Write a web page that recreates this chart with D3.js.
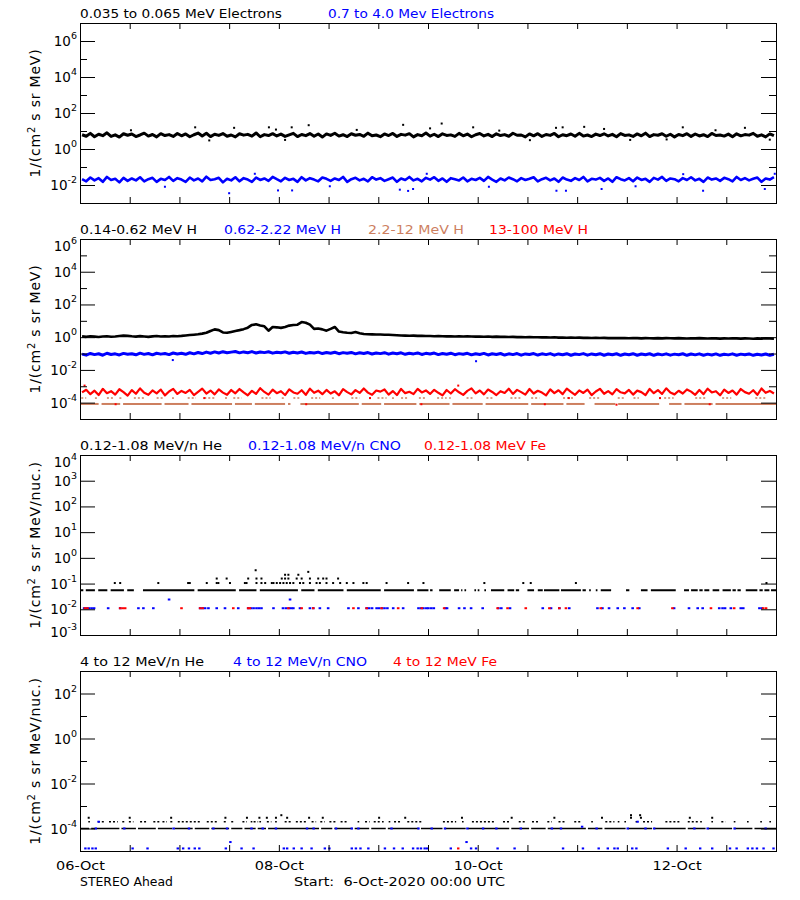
<!DOCTYPE html>
<html><head><meta charset="utf-8">
<script src="https://cdn.jsdelivr.net/npm/d3@7"></script>
<style>
body{margin:0;background:#fff;}
svg{display:block;font-family:"DejaVu Sans",sans-serif;}
</style></head><body>
<svg id="c" width="800" height="900"></svg>
<script>
// ---------------- DATA (time in hours since 06-Oct-2020 00:00 UTC) ----------------
const startDate = Date.UTC(2020, 9, 6);
const spanHours = 168;
const xTickStepHours = 12;
const xLabelHours = [0, 48, 96, 144];

// Panel 1 : electrons, hourly values
const p1Labels = ["0.035 to 0.065 MeV Electrons", "0.7 to 4.0 Mev Electrons"];
const p1Colors = ["#000000", "#0000ff"];
const p1TickExp = [-2, 0, 2, 4, 6];
const p1MinorExp = [-1, 1, 3, 5];
const p1Black = [6.2,5.1,7.4,4.8,6.6,5.5,7.9,5.0,6.1,4.6,7.0,5.8,
6.8,4.9,6.0,7.6,5.2,6.4,4.7,7.1,5.6,6.3,5.0,7.3,
5.4,6.9,4.8,6.2,7.7,5.3,7.5,4.9,6.6,5.7,7.2,5.1,
6.0,4.7,7.0,5.9,6.5,5.2,7.8,4.8,6.3,5.6,7.1,5.3,
6.7,5.0,6.1,7.4,4.9,6.4,5.5,7.2,5.1,6.8,4.6,6.9,
5.7,7.5,5.2,6.2,4.9,7.0,5.8,6.4,5.1,7.6,5.4,6.0,
4.8,6.9,5.6,7.3,5.0,6.5,5.9,7.1,4.7,6.3,5.5,7.7,
5.2,6.6,4.9,7.0,5.7,6.1,5.0,7.4,5.4,6.8,4.8,6.2,
7.2,5.3,6.5,4.9,7.0,5.6,6.3,5.1,7.5,5.8,6.0,4.7,
6.9,5.4,7.1,5.0,6.4,5.7,7.3,4.8,6.2,5.5,6.8,5.1,
7.4,5.2,6.0,4.9,6.7,5.6,7.0,5.3,6.5,4.8,7.2,5.7,
6.1,5.0,6.9,5.4,7.6,4.9,6.3,5.8,7.0,5.1,6.6,4.7,
6.4,5.5,7.1,5.0,6.8,5.3,6.2,4.9,7.3,5.6,6.0,5.2,
6.7,4.8,7.0,5.4,6.3,5.9,7.4,5.1,6.1,4.7,6.9,5.5];
const p1BlackOut = [[27.8,16],[37.2,15],[45.6,16],[47.3,12],[51.1,16],[55.2,21],[78,22],[84.5,14],[87.3,26],[94.9,16],[114.9,15],[116.5,16],[121.7,17],[126.5,13],[145.5,16],[160.5,15],[31.2,3.0],[49.5,3.2],[108.6,3.1],[132.8,3.2],[141.6,3.4],[166.5,3.3],[12.3,11],[66.8,11.5],[101.2,10.5],[153.4,11]];
const p1Blue = [0.021,0.016,0.026,0.018,0.024,0.015,0.028,0.019,0.022,0.014,0.025,0.017,
0.023,0.018,0.027,0.016,0.021,0.025,0.015,0.022,0.019,0.028,0.017,0.024,
0.020,0.015,0.026,0.018,0.023,0.016,0.029,0.019,0.021,0.025,0.014,0.022,
0.018,0.027,0.016,0.024,0.020,0.015,0.026,0.019,0.023,0.017,0.028,0.021,
0.016,0.025,0.019,0.022,0.015,0.027,0.018,0.024,0.020,0.016,0.026,0.022,
0.017,0.023,0.019,0.028,0.015,0.021,0.025,0.018,0.022,0.016,0.027,0.020,
0.024,0.017,0.021,0.026,0.015,0.023,0.019,0.028,0.018,0.022,0.016,0.025,
0.020,0.027,0.017,0.023,0.015,0.024,0.021,0.018,0.026,0.016,0.022,0.019,
0.025,0.017,0.028,0.020,0.015,0.023,0.018,0.026,0.021,0.016,0.024,0.019,
0.022,0.027,0.016,0.021,0.025,0.018,0.023,0.015,0.026,0.020,0.017,0.024,
0.019,0.028,0.016,0.022,0.020,0.025,0.017,0.023,0.015,0.027,0.021,0.018,
0.024,0.016,0.026,0.019,0.022,0.015,0.025,0.020,0.028,0.017,0.023,0.021,
0.016,0.024,0.019,0.027,0.018,0.022,0.015,0.026,0.020,0.023,0.017,0.025,
0.021,0.016,0.028,0.019,0.024,0.018,0.022,0.026,0.015,0.023,0.020,0.027];
const p1BlueOut = [[36,0.0035],[47.8,0.005],[51.2,0.005],[77.2,0.0055],[79.2,0.0047],[80.4,0.006],[115,0.0048],[117.3,0.0048],[125.9,0.006],[150.4,0.0048],[165.3,0.006],[42.2,0.042],[83.7,0.042],[145.6,0.04],[167.7,0.042],[20.5,0.008],[60.3,0.0085],[98.7,0.008],[134.1,0.0085]];

// Panel 2 : protons
const p2Labels = ["0.14-0.62 MeV H", "0.62-2.22 MeV H", "2.2-12 MeV H", "13-100 MeV H"];
const p2Colors = ["#000000", "#0000ff", "#cd7f5f", "#ff0000"];
const p2TickExp = [-4, -2, 0, 2, 4, 6];
const p2MinorExp = [-3, -1, 1, 3, 5];
const p2Black = [1.12,1.05,1.15,1.08,1.02,1.10,1.14,1.06,1.11,1.18,1.25,1.20,
1.13,1.08,1.16,1.10,1.05,1.12,1.17,1.09,1.14,1.11,1.19,1.15,
1.20,1.28,1.35,1.42,1.50,1.65,1.85,2.40,3.00,2.70,1.95,1.85,
2.10,2.40,2.70,3.10,3.80,5.60,6.10,5.20,4.60,2.50,4.20,4.00,
3.70,4.20,5.10,5.50,5.80,8.40,7.60,5.80,3.20,3.40,3.00,2.50,
3.20,4.20,2.20,2.00,1.85,1.80,2.05,1.75,1.55,1.50,1.48,1.46,
1.45,1.42,1.40,1.36,1.32,1.28,1.25,1.22,1.24,1.20,1.22,1.18,
1.17,1.15,1.18,1.14,1.12,1.15,1.11,1.13,1.09,1.12,1.10,1.08,
1.10,1.07,1.09,1.05,1.08,1.04,1.06,1.02,1.05,1.01,1.03,0.99,
1.02,0.98,1.00,0.97,0.99,0.95,0.98,0.94,0.96,0.93,0.95,0.92,
0.94,0.91,0.93,0.90,0.92,0.89,0.91,0.88,0.90,0.87,0.89,0.88,
0.86,0.89,0.87,0.85,0.88,0.86,0.84,0.87,0.85,0.88,0.86,0.84,
0.87,0.85,0.83,0.86,0.84,0.87,0.85,0.83,0.86,0.84,0.82,0.85,
0.83,0.86,0.84,0.82,0.85,0.83,0.81,0.84,0.82,0.85,0.83,0.81];
const p2Blue = [0.092,0.080,0.101,0.086,0.097,0.079,0.104,0.088,0.096,0.082,0.102,0.090,
0.098,0.084,0.106,0.089,0.100,0.083,0.104,0.092,0.101,0.086,0.108,0.095,
0.103,0.090,0.112,0.096,0.116,0.100,0.123,0.105,0.126,0.108,0.130,0.112,
0.122,0.133,0.110,0.126,0.113,0.131,0.108,0.124,0.114,0.129,0.106,0.121,
0.111,0.126,0.104,0.120,0.109,0.125,0.102,0.117,0.107,0.122,0.100,0.116,
0.105,0.120,0.098,0.114,0.103,0.117,0.096,0.112,0.101,0.115,0.094,0.109,
0.099,0.113,0.092,0.107,0.097,0.111,0.090,0.105,0.095,0.109,0.088,0.103,
0.093,0.107,0.086,0.101,0.091,0.105,0.085,0.099,0.090,0.103,0.083,0.098,
0.088,0.102,0.082,0.097,0.087,0.101,0.081,0.096,0.086,0.100,0.080,0.095,
0.087,0.100,0.081,0.096,0.086,0.099,0.080,0.095,0.085,0.098,0.079,0.094,
0.086,0.099,0.080,0.095,0.085,0.098,0.079,0.094,0.084,0.097,0.078,0.093,
0.085,0.098,0.079,0.094,0.084,0.097,0.078,0.093,0.083,0.096,0.080,0.092,
0.084,0.097,0.078,0.093,0.083,0.096,0.079,0.092,0.082,0.095,0.078,0.091,
0.083,0.096,0.079,0.092,0.084,0.095,0.078,0.091,0.082,0.094,0.079,0.090];
const p2BlueOut = [[22.4,0.04],[95.6,0.034]];
const p2TanLowLevel = 8.3e-5;
const p2TanLow = [[0,4.5],[5.2,9.7],[10.4,19.7],[20.4,26.2],[26.9,36.7],[37.4,41.5],[42.2,49.5],[50.2,50.8],[53.2,67.3],[68,72.7],[73.4,81.2],[81.9,89.2],[89.9,97.2],[97.9,108.2],[108.9,116.7],[117.4,121.8],[124.2,129.2],[129.9,139.8],[142.2,145.2],[145.9,152.7],[153.4,168]];
const p2TanHighLevel = 1.9e-4;
const p2TanHigh = [[0.3,1.5],[3.6,4.3],[6.5,8],[9.5,10],[13,15.5],[18.5,20.2],[22.2,22.8],[26,28],[30,32.5],[35,35.8],[37,39],[43.8,46],[48.7,49.3],[51.5,53],[55.8,58],[60.8,61.4],[65.5,67.5],[71.8,74],[75.3,75.9],[77.5,79.3],[81.8,83.5],[86.2,88.5],[89.1,89.5],[93.3,94.9],[98.1,99.7],[103.9,106.3],[108.9,110.9],[116.6,119],[122.9,125.5],[129.8,131.5],[133.6,134.9],[141,143.3],[148.5,151],[155,157.2],[163,165.5]];
const p2Red = [4.2e-4,6.1e-4,3.3e-4,5.4e-4,2.9e-4,7.0e-4,3.8e-4,5.0e-4,3.1e-4,6.6e-4,4.4e-4,2.7e-4,
5.8e-4,3.5e-4,7.4e-4,4.0e-4,3.0e-4,5.6e-4,3.7e-4,6.3e-4,2.8e-4,4.8e-4,6.9e-4,3.4e-4,
5.2e-4,3.9e-4,6.0e-4,2.9e-4,4.6e-4,7.2e-4,3.6e-4,5.5e-4,3.2e-4,6.4e-4,4.1e-4,3.0e-4,
5.9e-4,3.7e-4,6.8e-4,4.3e-4,2.8e-4,5.3e-4,3.4e-4,7.6e-4,4.5e-4,3.1e-4,6.2e-4,3.8e-4,
5.0e-4,2.9e-4,6.5e-4,4.2e-4,3.5e-4,5.7e-4,3.0e-4,7.1e-4,4.0e-4,5.4e-4,3.3e-4,6.0e-4,
3.6e-4,4.9e-4,2.8e-4,6.7e-4,4.4e-4,3.2e-4,5.8e-4,3.9e-4,7.3e-4,4.1e-4,3.0e-4,5.5e-4,
4.7e-4,6.4e-4,3.1e-4,5.1e-4,2.9e-4,6.9e-4,3.8e-4,4.6e-4,3.3e-4,7.0e-4,4.2e-4,5.6e-4,
3.4e-4,6.1e-4,4.0e-4,2.8e-4,5.9e-4,3.6e-4,6.6e-4,4.3e-4,3.0e-4,5.2e-4,7.4e-4,3.7e-4,
5.5e-4,3.2e-4,6.3e-4,4.5e-4,2.9e-4,5.0e-4,3.9e-4,7.1e-4,3.4e-4,6.0e-4,4.4e-4,3.1e-4,
6.8e-4,3.6e-4,5.3e-4,4.1e-4,2.8e-4,6.5e-4,3.8e-4,5.7e-4,3.3e-4,7.2e-4,4.6e-4,3.0e-4,
5.6e-4,3.9e-4,6.2e-4,2.9e-4,4.8e-4,7.0e-4,3.5e-4,5.1e-4,3.2e-4,6.7e-4,4.3e-4,3.7e-4,
6.0e-4,3.1e-4,5.4e-4,4.4e-4,2.9e-4,6.9e-4,3.8e-4,5.8e-4,3.4e-4,7.5e-4,4.1e-4,3.2e-4,
5.3e-4,3.6e-4,6.4e-4,4.7e-4,3.0e-4,5.9e-4,3.3e-4,7.1e-4,4.2e-4,5.0e-4,2.8e-4,6.3e-4,
3.9e-4,5.5e-4,3.1e-4,6.8e-4,4.4e-4,3.5e-4,5.7e-4,3.0e-4,7.3e-4,4.0e-4,5.2e-4,3.6e-4];
const p2RedOut = [[1.1,1.1e-3],[91.3,1.1e-3],[8.6,8e-5],[54.6,8e-5],[82.4,8e-5],[112.2,8e-5],[129.5,7.5e-5],[152,8e-5],[30,1.9e-4],[70,1.9e-4],[118,1.9e-4],[140,1.9e-4]];

// Panel 3 : low-energy heavy ions
const p3Labels = ["0.12-1.08 MeV/n He", "0.12-1.08 MeV/n CNO", "0.12-1.08 MeV Fe"];
const p3Colors = ["#000000", "#0000ff", "#ff0000"];
const p3TickExp = [-3, -2, -1, 0, 1, 2, 3, 4];
const p3MinorExp = [];
const p3HeBaseLevel = 0.055;
const p3HeBase = [[0,0.8],[1.4,3.6],[4.4,6.6],[7.4,10.6],[11.4,13],[15.2,27.6],[28.4,37.6],[38.4,42.6],[43.4,52.6],[53.4,56.6],[57.4,63.6],[64.4,72.6],[73.4,80.6],[81.4,84.1],[84.5,85.1],[86.7,89.5],[90.3,91.5],[92,92.3],[92.8,93.2],[95.2,95.6],[96,96.4],[97.6,98],[99.2,102.4],[103.2,104.8],[105.2,106],[108,109.6],[110.5,111.7],[112,115.7],[116.1,120.9],[121.3,122.1],[122.9,123.3],[124.5,124.9],[125.7,128.2],[131.8,132.6],[135.4,137],[137.8,143.8],[145.8,147],[147.5,149.1],[149.5,150.3],[150.7,151.9],[152.7,154.3],[155.1,157.1],[157.5,158.3],[158.7,159.5],[160.7,163.5],[164,164.8],[165.2,166.4],[166.8,168]];
const p3HeHigh = [[8.4,0.105],[9.7,0.105],[18.9,0.105],[26.1,0.105],[26.5,0.105],[30.6,0.105],[33,0.105],[33.4,0.105],[36.2,0.105],[39.8,0.105],[40.2,0.105],[42.6,0.105],[43.8,0.105],[44.7,0.105],[46.3,0.105],[46.7,0.105],[47.5,0.105],[48.3,0.105],[49.1,0.105],[49.9,0.105],[50.7,0.105],[51.5,0.105],[53.1,0.105],[53.9,0.105],[55.5,0.105],[57.1,0.105],[57.9,0.105],[59.5,0.105],[61.1,0.105],[62.8,0.105],[64.4,0.105],[66,0.105],[68.4,0.105],[69.2,0.105],[74,0.105],[79.2,0.105],[82.9,0.105],[97.6,0.105],[107,0.105],[108.8,0.105],[119.7,0.105],[165.7,0.105],
[33,0.157],[35.4,0.157],[40.6,0.157],[42.6,0.157],[43.8,0.157],[48.7,0.157],[49.5,0.157],[50.3,0.157],[52.3,0.157],[53.5,0.157],[55.5,0.157],[57.5,0.157],[58.7,0.157],[59.5,0.157],[62.3,0.157],
[49.5,0.22],[50.3,0.22],[52.7,0.22],[55.1,0.285],[42.4,0.33]];
const p3CNO = [[1,0.011],[1.6,0.011],[2.2,0.011],[2.8,0.011],[3.4,0.011],[6.8,0.011],[9.7,0.011],[14.1,0.011],[15.3,0.011],[17.7,0.011],[29,0.011],[29.6,0.011],[30.2,0.011],[31,0.011],[33,0.011],[35,0.011],[38.2,0.011],[40.6,0.011],[41.3,0.011],[41.9,0.011],[42.6,0.011],[43.2,0.011],[43.8,0.011],[46.7,0.011],[49,0.011],[49.7,0.011],[50.4,0.011],[51,0.011],[51.5,0.011],[53.1,0.011],[55.5,0.011],[56.3,0.011],[57.9,0.011],[59.9,0.011],[64.8,0.011],[67.2,0.011],[69.2,0.011],[69.8,0.011],[70.5,0.011],[71.6,0.011],[72.2,0.011],[72.9,0.011],[73.5,0.011],[74.2,0.011],[75.6,0.011],[78,0.011],[81.7,0.011],[82.3,0.011],[82.9,0.011],[83.6,0.011],[84.1,0.011],[84.8,0.011],[85.4,0.011],[88.2,0.011],[88.6,0.011],[91.5,0.011],[92.8,0.011],[94.4,0.011],[97.2,0.011],[101,0.011],[101.7,0.011],[103.8,0.011],[111.7,0.011],[113.7,0.011],[115.7,0.011],[118.1,0.011],[124.9,0.011],[126.1,0.011],[127.7,0.011],[129.8,0.011],[131.4,0.011],[133.4,0.011],[135,0.011],[143.4,0.011],[147,0.011],[149.1,0.011],[150.3,0.011],[154.3,0.011],[155.1,0.011],[155.7,0.011],[157.1,0.011],[159.5,0.011],[160.1,0.011],[164,0.011],[164.6,0.011],[21.5,0.024],[50.7,0.024]];
const p3Fe = [[1.2,0.011],[1.8,0.011],[9.7,0.011],[10.3,0.011],[10.9,0.011],[24.5,0.011],[29,0.011],[29.6,0.011],[37,0.011],[40.6,0.011],[41,0.011],[50.3,0.011],[53.5,0.011],[56.3,0.011],[66,0.011],[69.2,0.011],[72.8,0.011],[76.8,0.011],[82.5,0.011],[87.9,0.011],[100.8,0.011],[103.2,0.011],[107.6,0.011],[113.3,0.011],[115.7,0.011],[117.3,0.011],[125.7,0.011],[134.6,0.011],[143,0.011],[152.3,0.011],[157.9,0.011],[164.9,0.011],[165.6,0.011]];

// Panel 4 : high-energy heavy ions
const p4Labels = ["4 to 12 MeV/n He", "4 to 12 MeV/n CNO", "4 to 12 MeV Fe"];
const p4Colors = ["#000000", "#0000ff", "#ff0000"];
const p4TickExp = [-4, -2, 0, 2];
const p4MinorExp = [-3, -1, 1];
const p4HeBaseLevel = 1e-4;
const p4HeBase = [[0,2.2],[2.7,9.5],[10,13.5],[14,18.3],[18.8,22.3],[22.8,27.2],[27.7,31.2],[31.7,36],[36.5,39.2],[39.7,42.4],[42.9,44.9],[45.4,57.7],[58.2,60.9],[61.4,65.8],[66.3,69.8],[70.3,73.8],[74.3,81.8],[82.3,87.5],[88,93.1],[93.6,103.6],[104.1,108.4],[108.9,112.4],[112.9,122.1],[122.6,126.1],[126.6,131.7],[132.2,138.1],[138.6,146.2],[146.7,151],[151.5,157.4],[157.9,162.3],[162.8,168]];
const p4HeUpLevel = 2e-4;
const p4HeUp = [[2,2.4],[4.3,5.9],[7,9.1],[10.2,10.7],[11.8,12.9],[14.5,16.1],[17.7,19.3],[19.9,21],[21.8,22.3],[23.6,29],[30.6,33.3],[34.7,35.2],[36.5,37.1],[39.2,40.3],[41.2,41.6],[41.9,43],[43.3,43.7],[45.1,46.2],[47.1,47.5],[49.4,51],[52.1,54.8],[55.9,57],[58,59.1],[60.2,61.8],[62.9,64.5],[67,67.4],[68.8,69.9],[70.9,72.5],[72.9,73.3],[74.5,74.9],[75.8,77.4],[79,82.8],[87.6,90.8],[92.2,92.6],[94.6,99.9],[102.1,103.7],[105.9,107.5],[109.1,110.7],[112.8,113.9],[115.5,117.1],[119.3,120.9],[123.4,123.8],[126.8,129],[129.8,130.2],[131.4,131.8],[134.1,134.5],[135.9,138.1],[141.3,145.1],[146.7,149.4],[149.7,150.1],[152.4,152.8],[154.8,155.8],[157.8,158.2],[161,161.4],[164.2,164.6],[166.4,166.8]];
const p4HeHigh = [[2.1,3e-4],[12,3e-4],[22,3e-4],[35.1,3e-4],[40.3,3e-4],[43.3,3e-4],[45.1,3e-4],[47.3,3e-4],[50,3e-4],[55.3,3e-4],[58.6,3e-4],[72.2,3e-4],[78.5,3e-4],[92.2,3e-4],[104.2,3e-4],[114.5,3e-4],[126,3e-4],[133,3e-4],[135.4,3e-4],[147.2,3e-4],[152.6,3e-4],[48.6,3.9e-4],[133,3.9e-4],[135.2,3.9e-4]];
const p4CNO = [[3.8,1e-4],[10.7,1e-4],[22.6,1e-4],[26.3,1e-4],[32.2,1e-4],[35.5,1e-4],[41.4,1e-4],[44.1,1e-4],[47.3,1e-4],[54.8,1e-4],[56.4,1e-4],[61.8,1e-4],[65.6,1e-4],[67.2,1e-4],[75.2,1e-4],[81.7,1e-4],[84.9,1e-4],[88.1,1e-4],[93.5,1e-4],[97.3,1e-4],[100.5,1e-4],[106.4,1e-4],[113.9,1e-4],[116.1,1e-4],[124.7,1e-4],[132.2,1e-4],[136.5,1e-4],[138.6,1e-4],[148.3,1e-4],[151.5,1e-4],[158,1e-4],[165.5,1e-4],
[121.2,1.2e-4],[4.5,2e-4],[134.6,2e-4],[36.3,2.5e-5],[93.3,2.5e-5],
[1.3,1.3e-5],[2.1,1.3e-5],[3,1.3e-5],[3.8,1.3e-5],[12.7,1.3e-5],[16.3,1.3e-5],[23.6,1.3e-5],[24.9,1.3e-5],[26.3,1.3e-5],[27.7,1.3e-5],[28.8,1.3e-5],[35.2,1.3e-5],[39,1.3e-5],[41.9,1.3e-5],[49.2,1.3e-5],[50,1.3e-5],[51.6,1.3e-5],[53.5,1.3e-5],[55.9,1.3e-5],[59.1,1.3e-5],[60.2,1.3e-5],[65.6,1.3e-5],[66.6,1.3e-5],[67.7,1.3e-5],[69.6,1.3e-5],[73.6,1.3e-5],[75.8,1.3e-5],[77.9,1.3e-5],[80.4,1.3e-5],[81.5,1.3e-5],[82.3,1.3e-5],[83.2,1.3e-5],[83.8,1.3e-5],[89.5,1.3e-5],[94.4,1.3e-5],[95.6,1.3e-5],[100.8,1.3e-5],[104.9,1.3e-5],[116.6,1.3e-5],[121.4,1.3e-5],[125.2,1.3e-5],[127.4,1.3e-5],[129,1.3e-5],[129.8,1.3e-5],[133.3,1.3e-5],[134.3,1.3e-5],[141.9,1.3e-5],[146.2,1.3e-5],[149.7,1.3e-5],[152.6,1.3e-5],[156.9,1.3e-5],[158.5,1.3e-5],[161.2,1.3e-5],[162.3,1.3e-5],[163.4,1.3e-5],[165,1.3e-5],[167.4,1.3e-5]];
const p4Fe = [[91.3,1.3e-5]];

const yTitleA = "1/(cm";
const yTitleB1 = " s sr MeV)";
const yTitleB2 = " s sr MeV/nuc.)";
const footLeft = "STEREO Ahead";
const footRight = "Start:  6-Oct-2020 00:00 UTC";

// ---------------- LAYOUT ----------------
const L = 80, R = 776, PH = 180;
const hDate = h => new Date(startDate + h * 3600000);
const x = d3.scaleUtc().domain([hDate(0), hDate(spanHours)]).range([L, R]);
const svg = d3.select("#c");

const panels = [
  {top: 23, dom: [1e-3, 1e7], major: p1TickExp, minor: p1MinorExp, labels: p1Labels, colors: p1Colors,
   legX: [80, 328], legW: [202, 166], title: yTitleB1,
   draw: (g, y) => {
     line(g, y, p1Black, "#000", 3);
     pts(g, y, p1BlackOut, "#000", 2, 2);
     line(g, y, p1Blue, "#0000ff", 2.6);
     pts(g, y, p1BlueOut, "#0000ff", 2, 2);
   }},
  {top: 239, dom: [1e-5, 1e6], major: p2TickExp, minor: p2MinorExp, labels: p2Labels, colors: p2Colors,
   legX: [80, 224, 368, 489], legW: [117, 117, 96, 99], title: yTitleB1,
   draw: (g, y) => {
     line(g, y, p2Black, "#000", 2.6);
     line(g, y, p2Blue, "#0000ff", 3);
     pts(g, y, p2BlueOut, "#0000ff", 2, 2);
     segs(g, y, p2TanLow, p2TanLowLevel, "#cd7f5f", 2, null);
     segs(g, y, p2TanHigh, p2TanHighLevel, "#cd7f5f", 1.5, "2,2");
     line(g, y, p2Red, "#ff0000", 2.2);
     pts(g, y, p2RedOut, "#ff0000", 2, 2);
   }},
  {top: 455, dom: [1e-3, 1e4], major: p3TickExp, minor: p3MinorExp, labels: p3Labels, colors: p3Colors,
   legX: [80, 248, 424], legW: [142, 153, 122], title: yTitleB2,
   draw: (g, y) => {
     segs(g, y, p3HeBase, p3HeBaseLevel, "#000", 2, null);
     pts(g, y, p3HeHigh, "#000", 2, 2);
     pts(g, y, p3CNO, "#0000ff", 2.6, 2);
     pts(g, y, p3Fe, "#ff0000", 2.6, 2);
   }},
  {top: 671, dom: [1e-5, 1e3], major: p4TickExp, minor: p4MinorExp, labels: p4Labels, colors: p4Colors,
   legX: [80, 233, 393], legW: [124, 134, 104], title: yTitleB2,
   draw: (g, y) => {
     segs(g, y, p4HeBase, p4HeBaseLevel, "#000", 1.5, null);
     segs(g, y, p4HeUp, p4HeUpLevel, "#000", 1.5, "2,2");
     pts(g, y, p4HeHigh, "#000", 2, 2);
     pts(g, y, p4CNO, "#0000ff", 2.4, 2);
     pts(g, y, p4Fe, "#ff0000", 2.4, 2);
   }}
];

function line(g, y, vals, color, w) {
  g.append("path").datum(vals)
    .attr("d", d3.line().x((d, i) => x(hDate(i + 0.5))).y(d => y(d)))
    .attr("fill", "none").attr("stroke", color).attr("stroke-width", w)
    .attr("stroke-linejoin", "round");
}
function pts(g, y, data, color, w, h) {
  g.append("g").selectAll("rect").data(data).join("rect")
    .attr("x", d => x(hDate(d[0])) - w / 2).attr("y", d => y(d[1]) - h / 2)
    .attr("width", w).attr("height", h).attr("fill", color);
}
function segs(g, y, data, level, color, w, dash) {
  g.append("g").selectAll("line").data(data).join("line")
    .attr("x1", d => x(hDate(d[0]))).attr("x2", d => x(hDate(d[1])))
    .attr("y1", y(level)).attr("y2", y(level))
    .attr("stroke", color).attr("stroke-width", w)
    .attr("stroke-dasharray", dash);
}

const xTicks = d3.utcHour.every(xTickStepHours).range(hDate(0), hDate(spanHours)).filter(d => +d > +hDate(0));

panels.forEach((p, pi) => {
  const top = p.top, bot = top + PH;
  const y = d3.scaleLog().domain(p.dom).range([bot, top]);
  const g = svg.append("g");

  g.append("clipPath").attr("id", "clip" + pi).append("rect")
    .attr("x", L).attr("y", top).attr("width", R - L).attr("height", PH);
  const gd = g.append("g").attr("clip-path", `url(#clip${pi})`);
  p.draw(gd, y);

  // box
  g.append("rect").attr("x", L + 0.5).attr("y", top + 0.5).attr("width", R - L).attr("height", PH)
    .attr("fill", "none").attr("stroke", "#000").attr("stroke-width", 1);

  const maj = p.major.map(e => Math.pow(10, e));
  const mnr = p.minor.map(e => Math.pow(10, e));
  const clean = s => { s.select(".domain").remove(); s.selectAll("text").remove(); s.attr("font-size", null).attr("font-family", null); };
  g.append("g").attr("transform", `translate(${L},0)`).call(d3.axisLeft(y).tickValues(maj).tickSize(-15).tickSizeOuter(0)).call(clean);
  g.append("g").attr("transform", `translate(${L},0)`).call(d3.axisLeft(y).tickValues(mnr).tickSize(-7).tickSizeOuter(0)).call(clean);
  g.append("g").attr("transform", `translate(${R},0)`).call(d3.axisRight(y).tickValues(maj).tickSize(-15).tickSizeOuter(0)).call(clean);
  g.append("g").attr("transform", `translate(${R},0)`).call(d3.axisRight(y).tickValues(mnr).tickSize(-7).tickSizeOuter(0)).call(clean);
  g.append("g").attr("transform", `translate(0,${bot})`).call(d3.axisBottom(x).tickValues(xTicks).tickSize(-6).tickSizeOuter(0)).call(clean);
  g.append("g").attr("transform", `translate(0,${top})`).call(d3.axisTop(x).tickValues(xTicks).tickSize(-6).tickSizeOuter(0)).call(clean);

  // y tick labels 10^n
  p.major.forEach(e => {
    let ty = y(Math.pow(10, e)) + 5;
    if (Math.abs(y(Math.pow(10, e)) - top) < 2) ty += 7;
    if (Math.abs(y(Math.pow(10, e)) - bot) < 2) ty -= 3;
    const t = g.append("text").attr("x", 77).attr("y", ty).attr("text-anchor", "end")
      .attr("font-size", 13.5).attr("fill", "#000");
    t.append("tspan").text("10");
    t.append("tspan").attr("dy", -7).attr("font-size", 9.5).text(String(e));
  });

  // y title
  const cy = (top + bot) / 2;
  const tt = g.append("text").attr("transform", `translate(40,${cy}) rotate(-90)`)
    .attr("text-anchor", "middle").attr("font-size", 14).attr("letter-spacing", 0.8).attr("fill", "#000");
  tt.append("tspan").text(yTitleA);
  tt.append("tspan").attr("dy", -5).attr("font-size", 10).text("2");
  tt.append("tspan").attr("dy", 5).text(p.title);

  // legend
  p.labels.forEach((lab, i) => {
    g.append("text").attr("x", p.legX[i]).attr("y", top - 5).attr("font-size", 12.5)
      .attr("fill", p.colors[i]).attr("textLength", p.legW[i]).attr("lengthAdjust", "spacingAndGlyphs")
      .text(lab);
  });

  if (pi === panels.length - 1) {
    const la = g.append("g").attr("transform", `translate(0,${bot})`)
      .call(d3.axisBottom(x).tickValues(xLabelHours.map(hDate)).tickSize(0).tickPadding(10)
        .tickFormat(d3.utcFormat("%d-%b")));
    la.select(".domain").remove();
    la.attr("font-size", null).attr("font-family", null);
    la.selectAll("text").attr("font-size", 12.5).attr("fill", "#000").attr("dy", "0.71em")
      .attr("textLength", 49).attr("lengthAdjust", "spacingAndGlyphs");
    svg.append("text").attr("x", 80).attr("y", 886).attr("font-size", 12.5)
      .attr("textLength", 93).attr("lengthAdjust", "spacingAndGlyphs").text(footLeft);
    svg.append("text").attr("x", 294).attr("y", 886).attr("font-size", 12.5).attr("xml:space", "preserve")
      .style("white-space", "pre")
      .attr("textLength", 211).attr("lengthAdjust", "spacingAndGlyphs").text(footRight);
  }
});
</script></body></html>
